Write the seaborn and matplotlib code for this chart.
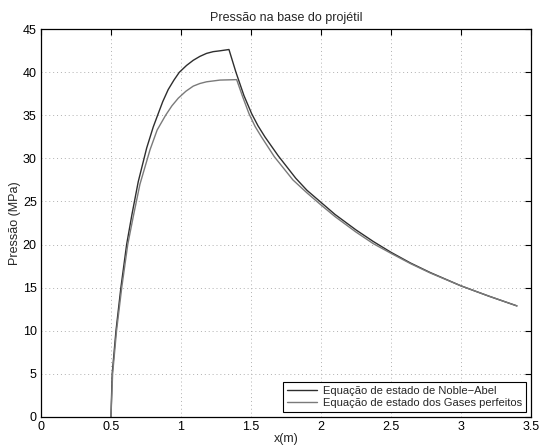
import numpy as np
import pandas as pd
import matplotlib
matplotlib.use("Agg")
import matplotlib.pyplot as plt
import seaborn as sns

title = "Pressão na base do projétil"
xlabel = "x(m)"
ylabel = "Pressão (MPa)"
series_names = ["Equação de estado de Noble\u2212Abel", "Equação de estado dos Gases perfeitos"]

x_noble = [0.5, 0.509, 0.536, 0.571, 0.612, 0.65, 0.695, 0.755, 0.802, 0.833, 0.87, 0.909, 0.95, 0.988,
           1.04, 1.088, 1.135, 1.183, 1.23, 1.279, 1.343,
           1.393, 1.45, 1.505, 1.55, 1.60, 1.695, 1.82, 1.9, 2.0, 2.1, 2.25, 2.374, 2.5, 2.64, 2.78,
           3.0, 3.2, 3.4]
p_noble = [0.0, 5.0, 10.0, 15.0, 20.0, 23.5, 27.3, 31.2, 33.65, 35.0, 36.6, 38.0, 39.1, 40.0,
           40.8, 41.4, 41.85, 42.2, 42.4, 42.5, 42.65,
           40.0, 37.3, 35.2, 33.8, 32.5, 30.3, 27.7, 26.3, 24.9, 23.5, 21.7, 20.35, 19.1, 17.85, 16.75,
           15.2, 14.0, 12.87]

x_perf = [0.5, 0.512, 0.54, 0.577, 0.62, 0.66, 0.707, 0.779, 0.83, 0.89, 0.935, 0.981, 1.035, 1.088,
          1.135, 1.183, 1.279, 1.398,
          1.44, 1.486, 1.53, 1.575, 1.667, 1.80, 1.9, 2.0, 2.1, 2.25, 2.374, 2.5, 2.64, 2.78,
          3.0, 3.2, 3.4]
p_perf = [0.0, 5.0, 10.0, 15.0, 20.0, 23.3, 27.0, 31.0, 33.3, 35.0, 36.1, 37.0, 37.8, 38.4,
          38.7, 38.9, 39.1, 39.15,
          37.2, 35.2, 33.7, 32.5, 30.2, 27.5, 26.0, 24.6, 23.25, 21.45, 20.1, 18.98, 17.78, 16.7,
          15.2, 14.0, 12.87]

df = pd.DataFrame({
    "x": x_noble + x_perf,
    "p": p_noble + p_perf,
    "serie": [series_names[0]] * len(x_noble) + [series_names[1]] * len(x_perf),
})

sns.set_style("white")
plt.rcParams["font.family"] = ["Liberation Sans", "DejaVu Sans"]

fig = plt.figure(figsize=(5.39, 4.45), dpi=100)
ax = fig.add_axes([0.076, 0.0636, 0.909, 0.8706])

sns.lineplot(data=df, x="x", y="p", hue="serie", palette=["#2e2e2e", "#7a7a7a"],
             sort=False, estimator=None, linewidth=1.0, ax=ax)

ax.set_xlim(0, 3.5)
ax.set_ylim(0, 45)
ax.set_xticks(np.arange(0, 3.51, 0.5))
ax.set_xticklabels(["0", "0.5", "1", "1.5", "2", "2.5", "3", "3.5"])
ax.set_yticks(np.arange(0, 46, 5))
ax.tick_params(direction="in", top=True, right=True, length=4, width=0.8, labelsize=9, pad=3, colors="black")
ax.grid(True, linestyle=(0, (1, 3)), color="#b0b0b0", linewidth=0.7)
for s in ax.spines.values():
    s.set_color("black")
    s.set_linewidth(0.9)

ax.set_title(title, fontsize=9, pad=6)
ax.set_xlabel(xlabel, fontsize=9, labelpad=0)
ax.set_ylabel(ylabel, fontsize=9, labelpad=1)

leg = ax.legend(loc="lower right", fontsize=8, frameon=True, fancybox=False, edgecolor="black",
                framealpha=1, handlelength=2.7, handletextpad=0.6, borderpad=0.35,
                labelspacing=0.2, borderaxespad=0.4)
leg.get_frame().set_linewidth(0.8)

fig.savefig("out.png", dpi=100)
